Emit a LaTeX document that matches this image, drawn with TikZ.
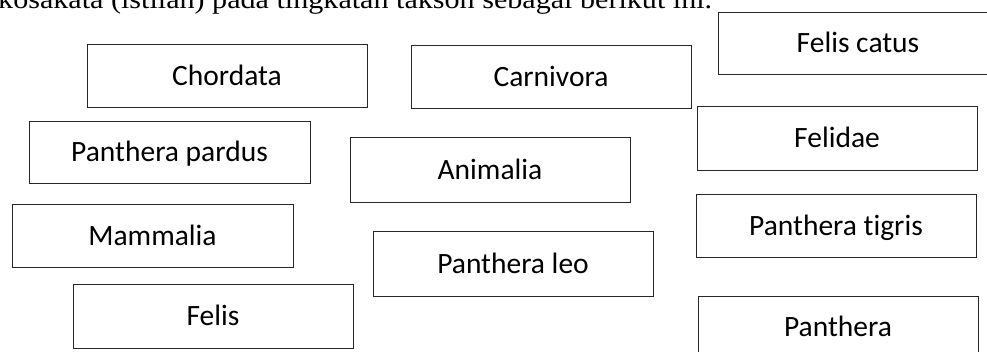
\documentclass[tikz,border=0pt]{standalone}
\usepackage{fontspec}
\setmainfont{Carlito}[Ligatures=NoCommon]
\newfontfamily\headfont{Liberation Serif}

\begin{document}
\begin{tikzpicture}[x=1pt, y=-1pt,
  termbox/.style={draw=black!85, line width=1pt, minimum width=280pt,
    minimum height=63pt, inner sep=0pt, text height=19pt, text depth=0pt,
    font=\fontsize{29.5}{34}\selectfont}]
\useasboundingbox (0,0) rectangle (987,351);
\clip (0,0) rectangle (987,351);

% line of running text, cut off at the top edge
\node[anchor=base west, inner sep=0pt, font=\headfont\fontsize{27}{31}\selectfont]
  (intro) at (-2,8.5) {\scalebox{1.115}[1]{kosakata (istilah) pada tingkatan takson sebagai berikut ini.}};

% term cards
\node[termbox] (chordata)  at (227,75.5)  {Chordata};
\node[termbox] (carnivora) at (551,76.5)  {Carnivora};
\node[termbox, minimum height=62pt] (catus) at (858,43) {Felis catus};
\node[termbox, minimum width=281pt, minimum height=62pt] (pardus) at (169.5,152) {Panthera pardus};
\node[termbox, minimum height=65pt] (animalia) at (490,169.5) {Animalia};
\node[termbox, minimum height=64pt] (felidae) at (837,138) {Felidae};
\node[termbox, minimum width=281pt] (mammalia) at (152.5,235.5) {Mammalia};
\node[termbox, minimum height=65pt] (leo) at (513,263.5) {Panthera leo};
\node[termbox] (tigris) at (836,225.5) {Panthera tigris};
\node[termbox, minimum height=64pt] (felis) at (213,316) {Felis};
\node[termbox, minimum height=62pt] (panthera) at (838,327) {Panthera};
\end{tikzpicture}
\end{document}
